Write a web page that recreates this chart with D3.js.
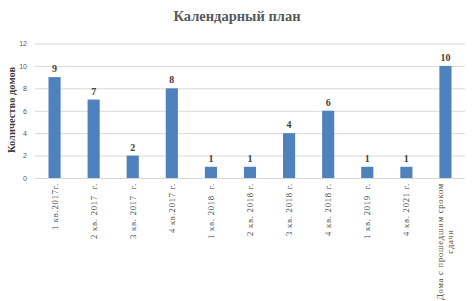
<!DOCTYPE html>
<html><head><meta charset="utf-8">
<script src="https://cdn.jsdelivr.net/npm/d3@7"></script>
<style>body{margin:0;background:#fff}svg{display:block}</style>
</head><body>
<svg id="c" width="473" height="301"></svg>
<script>
const categories = ["1 кв.2017г.","2 кв. 2017  г.","3 кв. 2017  г.","4 кв.2017 г.","1 кв. 2018  г.","2 кв. 2018 г.","3 кв. 2018 г.","4 кв. 2018 г.","1 кв. 2019  г.","4 кв. 2021 г.","Дома с прошедшим сроком|сдачи"];
const values = [9,7,2,8,1,1,4,6,1,1,10];
const yTicks = [0,2,4,6,8,10,12];
const title = "Календарный план";
const yTitle = "Количество домов";

const svg = d3.select("#c");
const m = {l:35, r:465, t:43.5, b:178};
const x = d3.scaleBand().domain(categories).range([m.l, m.r]).paddingInner(0.69).paddingOuter(0.345);
const y = d3.scaleLinear().domain([0,12]).range([m.b, m.t]);
const serif = "'Liberation Serif','Times New Roman',serif";

svg.append("text").attr("x",237).attr("y",21).attr("text-anchor","middle")
  .attr("font-family",serif).attr("font-weight","bold").attr("font-size",14.5).attr("fill","#595959").text(title);

const ya = svg.append("g").attr("transform",`translate(${m.l},0)`)
  .call(d3.axisLeft(y).tickValues(yTicks).tickSize(-(m.r-m.l)).tickPadding(8));
ya.select(".domain").remove();
ya.selectAll(".tick line").attr("stroke","#d9d9d9");
ya.selectAll(".tick text").attr("font-family","'Liberation Sans',Arial,sans-serif").attr("font-size",7).attr("fill","#595959");

svg.append("text").attr("transform",`translate(15,110) rotate(-90)`).attr("text-anchor","middle")
  .attr("font-family",serif).attr("font-weight","bold").attr("font-size",10.5).attr("fill","#404040").text(yTitle);

svg.selectAll("rect.bar").data(values).enter().append("rect").attr("class","bar")
  .attr("x",(d,i)=>x(categories[i])).attr("width",x.bandwidth())
  .attr("y",d=>y(d)).attr("height",d=>y(0)-y(d)).attr("fill","#4f81bd");

svg.selectAll("text.val").data(values).enter().append("text").attr("class","val")
  .attr("x",(d,i)=>x(categories[i])+x.bandwidth()/2).attr("y",d=>y(d)-5)
  .attr("text-anchor","middle").attr("font-family",serif).attr("font-weight","bold")
  .attr("font-size",10).attr("fill","#404040").text(d=>d);

const xl = svg.append("g");
const fs = 8.5, ls = 0.8;
categories.forEach((c,i)=>{
  const cx = x(c)+x.bandwidth()/2;
  const lines = c.split("|");
  if(lines.length===1){
    xl.append("text").attr("transform",`translate(${cx+3},183) rotate(-90)`).attr("text-anchor","end")
      .attr("font-family",serif).attr("font-size",fs).attr("letter-spacing",ls).attr("fill","#404040").style("white-space","pre").text(c);
  } else {
    const t1 = xl.append("text").attr("font-family",serif).attr("font-size",fs).attr("letter-spacing",ls).attr("fill","#404040").text(lines[0]);
    const len = t1.node().getComputedTextLength();
    const cy = 183 + len/2;
    t1.attr("text-anchor","middle").attr("transform",`translate(${cx-2},${cy}) rotate(-90)`);
    xl.append("text").attr("font-family",serif).attr("font-size",fs).attr("letter-spacing",ls).attr("fill","#404040")
      .attr("text-anchor","middle").attr("transform",`translate(${cx+8},${cy}) rotate(-90)`).text(lines[1]);
  }
});
</script>
</body></html>
